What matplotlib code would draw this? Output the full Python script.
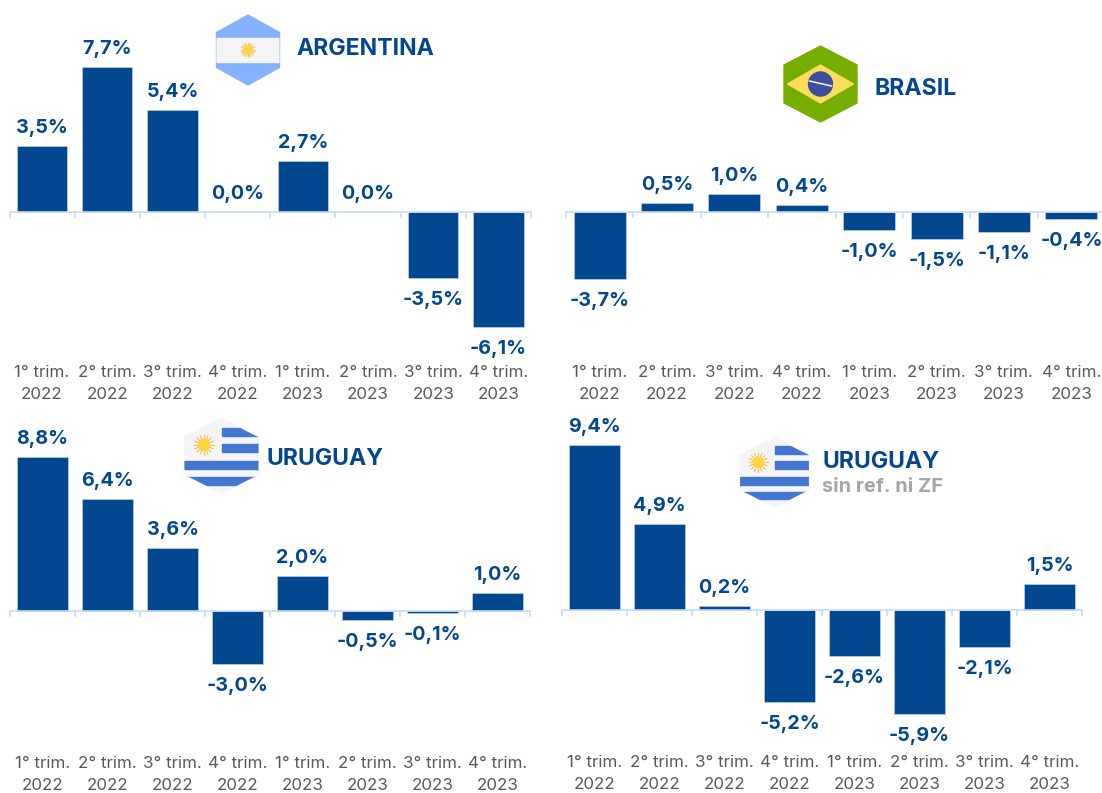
import numpy as np
import matplotlib
matplotlib.use('Agg')
import matplotlib.pyplot as plt
from matplotlib.patches import Polygon, Circle, Rectangle

W, H = 1102, 793
BLUE = '#03488e'
AXIS = '#c5dcf5'
TEXT = '#595959'

plt.rcParams['font.family'] = ['Inter', 'DejaVu Sans']

quarters = ['1° trim.\n2022', '2° trim.\n2022', '3° trim.\n2022', '4° trim.\n2022',
            '1° trim.\n2023', '2° trim.\n2023', '3° trim.\n2023', '4° trim.\n2023']
argentina = [3.5, 7.7, 5.4, 0.0, 2.7, 0.0, -3.5, -6.1]
brasil = [-3.7, 0.5, 1.0, 0.4, -1.0, -1.5, -1.1, -0.4]
uruguay = [8.8, 6.4, 3.6, -3.0, 2.0, -0.5, -0.1, 1.0]
uruguay_sin = [9.4, 4.9, 0.2, -5.2, -2.6, -5.9, -2.1, 1.5]


def panel(fig, values, left, right, top, base, bottom, scale, pad_px):
    ax = fig.add_axes([left/W, 1-bottom/H, (right-left)/W, (bottom-top)/H])
    ax.bar(range(8), values, width=0.77, color=BLUE, edgecolor=AXIS, linewidth=0.4)
    ax.set_xlim(-0.5, 7.5)
    ax.set_ylim(-(bottom-base)/scale, (base-top)/scale)
    for s in ['top', 'left', 'right']:
        ax.spines[s].set_visible(False)
    ax.spines['bottom'].set_position(('data', 0))
    ax.spines['bottom'].set_color(AXIS)
    ax.spines['bottom'].set_linewidth(1.2)
    ax.set_yticks([])
    ax.set_xticks(range(8))
    ax.set_xticklabels(quarters, fontsize=12.2, color=TEXT, linespacing=1.55)
    ax.tick_params(axis='x', which='major', length=0, pad=pad_px*0.72)
    ax.set_xticks(np.arange(-0.5, 8), minor=True)
    ax.tick_params(axis='x', which='minor', length=4, width=1.2, color=AXIS)
    ax.patch.set_alpha(0)
    for i, v in enumerate(values):
        off = 18 if v >= 0 else -22
        ax.annotate(f'{v:.1f}%'.replace('.', ','), (i, v), xytext=(0, off*0.72),
                    textcoords='offset points', ha='center', va='center',
                    fontsize=14.2, fontweight='bold', color=BLUE, annotation_clip=False)
    return ax


def hexagon(cx, cy, w, h):
    return [(cx, cy-h/2), (cx+w/2, cy-h/4), (cx+w/2, cy+h/4),
            (cx, cy+h/2), (cx-w/2, cy+h/4), (cx-w/2, cy-h/4)]


def sun(ov, cx, cy, r):
    a = np.linspace(0, 2*np.pi, 17)[:-1]
    for t in a:
        ov.plot([cx, cx+r*np.cos(t)], [cy, cy+r*np.sin(t)], color='#f6c26b', lw=0.9)
    ov.add_patch(Circle((cx, cy), r*0.55, color='#fdd53c', zorder=3))


def flag_argentina(ov, cx, cy):
    hx = Polygon(hexagon(cx, cy, 63, 70), closed=True, color='#85b2ff', joinstyle='round')
    ov.add_patch(hx)
    band = Rectangle((cx-32, cy-12), 64, 24, color='#f4f4f4')
    ov.add_patch(band)
    band.set_clip_path(hx)
    sun(ov, cx, cy, 7)


def flag_brasil(ov, cx, cy):
    ov.add_patch(Polygon(hexagon(cx, cy, 73, 76), closed=True, color='#76ae00', joinstyle='round'))
    ov.add_patch(Polygon([(cx-33, cy), (cx, cy-19), (cx+33, cy), (cx, cy+19)], closed=True, color='#fcdc5c'))
    ov.add_patch(Circle((cx, cy), 12, color='#3f4e9e', zorder=3))
    ov.plot([cx-11, cx+11], [cy-3, cy+2], color='#e8e8e8', lw=1.2, zorder=4)


def flag_uruguay(ov, cx, cy, s=1.0):
    hx = Polygon(hexagon(cx, cy, 74*s, 75*s), closed=True, color='#f5f5f5')
    ov.add_patch(hx)
    stripes = [(cx, cy-28*s, 38*s, 8*s), (cx, cy-12*s, 38*s, 8*s),
               (cx-38*s, cy+5*s, 76*s, 8*s), (cx-38*s, cy+21*s, 76*s, 8*s)]
    for x, y, w, h in stripes:
        r = Rectangle((x, y), w, h, color='#4377cf')
        ov.add_patch(r)
        r.set_clip_path(hx)
    sun(ov, cx-17.5*s, cy-11*s, 10*s)


fig = plt.figure(figsize=(W/100, H/100), dpi=100)
panel(fig, argentina, 9.5, 531, 50, 212, 352, 18.8, 153)
panel(fig, brasil, 566, 1105, 50, 212, 352, 18.1, 153)
panel(fig, uruguay, 10, 530, 440, 611, 745, 17.55, 145)
panel(fig, uruguay_sin, 562, 1082, 440, 610, 745, 17.6, 145)

# overlay in pixel coordinates for flags and titles
ov = fig.add_axes([0, 0, 1, 1])
ov.set_xlim(0, W)
ov.set_ylim(H, 0)
ov.axis('off')
ov.patch.set_alpha(0)

flag_argentina(ov, 248, 50)
flag_brasil(ov, 820.5, 84)
flag_uruguay(ov, 221.5, 456)
flag_uruguay(ov, 774.5, 472.5, 0.93)

title = dict(fontsize=16.6, fontweight='bold', color=BLUE, va='center', ha='left')
ov.text(296, 49, 'ARGENTINA', **title)
ov.text(875, 89, 'BRASIL', **title)
ov.text(267, 459, 'URUGUAY', **title)
ov.text(822, 462, 'URUGUAY', **title)
ov.text(822, 487, 'sin ref. ni ZF', fontsize=14.4, fontweight='bold', color='#a6a6a6', va='center', ha='left')

fig.savefig('out.png', dpi=100)
